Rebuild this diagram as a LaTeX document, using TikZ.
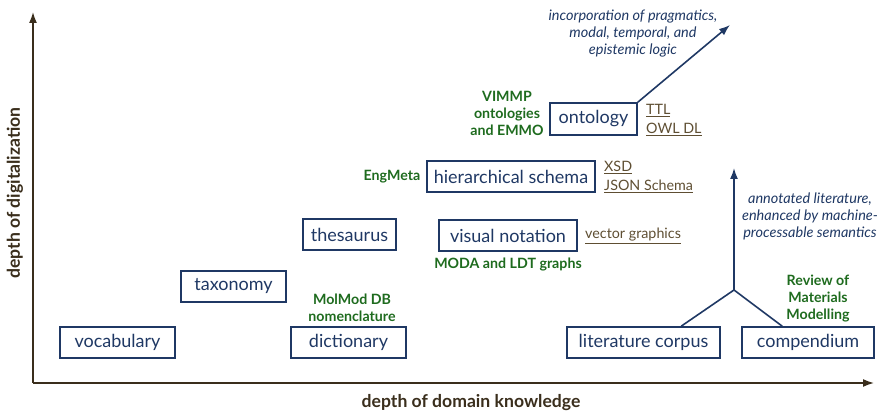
\documentclass[tikz,border=0pt]{standalone}
\usepackage{fontspec}
\setmainfont{Lato}
\usetikzlibrary{arrows.meta,calc}
\definecolor{navy}{HTML}{1F3864}
\definecolor{leaf}{HTML}{1E6B1E}
\definecolor{axisbrown}{HTML}{3A2E1C}
\definecolor{fmtbrown}{HTML}{5E4E32}
\begin{document}
\begin{tikzpicture}[x=1pt,y=-1pt,
  concept/.style={draw=navy,line width=1.6pt,text=navy,inner sep=0pt,
    minimum height=31pt,font=\fontsize{18}{21}\selectfont},
  example/.style={text=leaf,font=\fontsize{14.2}{17}\selectfont\bfseries,align=center,inner sep=0pt},
  format/.style={text=fmtbrown,font=\fontsize{14.3}{18.5}\selectfont,align=left,inner sep=0pt,anchor=west},
  remark/.style={text=navy,font=\fontsize{14.5}{17}\selectfont\itshape,align=center,inner sep=0pt},
  axislabel/.style={text=axisbrown,font=\fontsize{17.6}{20}\selectfont\bfseries,inner sep=0pt},
  axisline/.style={draw=axisbrown,line width=1.6pt,-{Latex[length=11pt,width=8pt]}},
  flow/.style={draw=navy,line width=1.6pt},
  flowarrow/.style={flow,-{Latex[length=11pt,width=8pt]}}]
\useasboundingbox (0,0) rectangle (878,411);

% axes
\coordinate (origin) at (33,383);
\coordinate (ytip) at (33,12);
\coordinate (xtip) at (874,383);
\draw[axisline] (origin) -- (ytip);
\draw[axisline] (origin) -- (xtip);
\node[axislabel,rotate=90] (ylab) at (15,193) {depth of digitalization};
\node[axislabel] (xlab) at (471,403) {depth of domain knowledge};

% concept boxes
\node[concept,minimum width=115pt] (voc) at (117.5,342.5) {vocabulary};
\node[concept,minimum width=105pt] (tax) at (233.5,286.5) {taxonomy};
\node[concept,minimum width=115pt] (dict) at (348.5,342.5) {dictionary};
\node[concept,minimum width=93pt] (thes) at (349.5,234.5) {thesaurus};
\node[concept,minimum width=138pt] (vis) at (508,235.5) {visual notation};
\node[concept,minimum width=168pt] (hier) at (511,176.5) {hierarchical schema};
\node[concept,minimum width=87pt,minimum height=32pt] (onto) at (593.5,119) {ontology};
\node[concept,minimum width=153pt] (lit) at (643.5,342.5) {literature corpus};
\node[concept,minimum width=132pt] (comp) at (808,342.5) {compendium};

% examples
\node[example] (vimmp) at (507,113) {VIMMP\\ontologies\\and EMMO};
\node[example] (engmeta) at (392,177) {EngMeta};
\node[example] (moda) at (508,265) {MODA and LDT graphs};
\node[example] (molmod) at (352,308) {MolMod DB\\nomenclature};
\node[example] (review) at (818,299) {Review of\\Materials\\Modelling};

% formats
\node[format] (owl) at (646,120) {\underline{TTL}\\\underline{OWL DL}};
\node[format] (xsd) at (604,177) {\underline{XSD}\\\underline{JSON Schema}};
\node[format] (vec) at (585,236) {\underline{vector graphics}};

% extensions
\coordinate (ontotip) at (730,25);
\draw[flowarrow] (onto.north east) -- (ontotip);
\node[remark] (logic) at (633,34) {incorporation of pragmatics,\\modal, temporal, and\\epistemic logic};

\coordinate (join) at (734,290);
\coordinate (littip) at (734,168);
\draw[flow] ($(lit.north west)+(115,0)$) -- (join) -- ($(comp.north west)+(41,0)$);
\draw[flowarrow] (join) -- (littip);
\node[remark] (annot) at (810,216) {annotated literature,\\enhanced by machine-\\processable semantics};
\end{tikzpicture}
\end{document}
